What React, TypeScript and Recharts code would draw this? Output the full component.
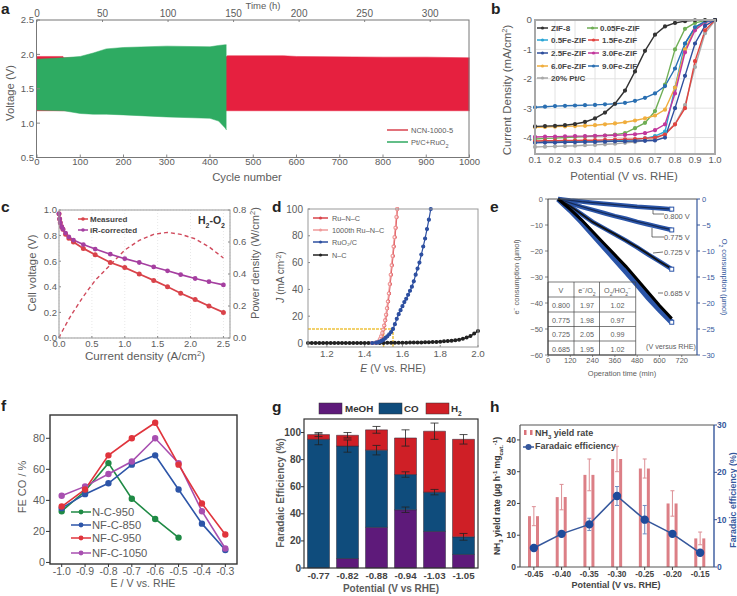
import React from 'react';
import {
  Area, Bar, CartesianGrid, ComposedChart, ErrorBar, Line, XAxis, YAxis,
} from 'recharts';

const FONT = '"Liberation Sans", Arial, sans-serif';
const GREY = '#5c5c5c';
const BLUE = '#35579c';

// panel a
const cycles = [0, 60, 62, 100, 130, 160, 200, 300, 400, 420, 435, 438, 440, 570, 600, 800, 900, 1000];
const hours = [0, 20, 20, 33, 43, 53, 66, 99, 132, 139, 144, 145, 145, 188, 198, 264, 297, 330];
const hoursTicks = [0, 50, 100, 150, 200, 250, 300];
const redHigh = [1.97, 1.97, 1.95, 1.95, 1.96, 1.96, 1.96, 1.96, 1.97, 1.97, 1.97, 1.97, 1.98, 1.98, 1.97, 1.96, 1.96, 1.95];
const redLow = [1.18, 1.18, 1.18, 1.18, 1.18, 1.18, 1.18, 1.18, 1.18, 1.18, 1.18, 1.18, 1.18, 1.18, 1.18, 1.18, 1.18, 1.18];
const greenHigh = [1.93, 1.95, 1.95, 1.97, 2.02, 2.08, 2.1, 2.12, 2.11, 2.13, 2.14, 2.14, null, null, null, null, null, null];
const greenLow = [1.19, 1.18, 1.18, 1.14, 1.13, 1.13, 1.12, 1.09, 1.07, 1.03, 0.93, 0.9, null, null, null, null, null, null];

// panel b
const potential = [0.1, 0.15, 0.2, 0.25, 0.3, 0.35, 0.4, 0.45, 0.5, 0.55, 0.6, 0.65, 0.7, 0.75, 0.8, 0.85, 0.9, 0.95, 1.0];
const zif8 = [-3.62, -3.61, -3.6, -3.58, -3.54, -3.47, -3.35, -3.15, -2.85, -2.4, -1.75, -1.05, -0.5, -0.22, -0.1, -0.04, -0.01, 0, 0];
const fe005 = [-4.05, -4.03, -4.02, -4.0, -3.98, -3.97, -3.95, -3.93, -3.9, -3.85, -3.68, -3.5, -3.1, -2.2, -1.0, -0.3, -0.1, -0.02, 0];
const fe05 = [-4.15, -4.14, -4.14, -4.13, -4.13, -4.12, -4.12, -4.11, -4.1, -4.09, -4.07, -4.03, -3.95, -3.8, -2.3, -0.8, -0.25, -0.05, 0];
const fe15 = [-4.12, -4.11, -4.11, -4.1, -4.1, -4.09, -4.09, -4.08, -4.07, -4.06, -4.05, -4.03, -4.0, -3.9, -3.55, -3.0, -1.4, -0.35, 0];
const fe25 = [-4.18, -4.17, -4.17, -4.16, -4.16, -4.15, -4.15, -4.14, -4.13, -4.13, -4.12, -4.11, -4.1, -4.0, -3.0, -1.9, -0.8, -0.2, 0];
const fe30 = [-3.98, -3.97, -3.97, -3.96, -3.95, -3.95, -3.94, -3.93, -3.92, -3.91, -3.89, -3.85, -3.75, -3.55, -2.5, -1.1, -0.35, -0.08, 0];
const fe60 = [-3.65, -3.64, -3.63, -3.62, -3.61, -3.6, -3.58, -3.55, -3.52, -3.48, -3.42, -3.35, -3.25, -3.05, -2.3, -1.0, -0.3, -0.08, 0];
const fe90 = [-2.97, -2.95, -2.93, -2.92, -2.91, -2.9, -2.89, -2.87, -2.85, -2.82, -2.75, -2.65, -2.5, -2.25, -1.65, -0.8, -0.25, -0.05, 0];
const ptc = [-4.32, -4.31, -4.3, -4.29, -4.28, -4.26, -4.25, -4.23, -4.21, -4.18, -4.15, -4.1, -4.05, -3.85, -3.55, -2.9, -1.6, -0.45, -0.02];

// panel c
const currentDensity = [0, 0.01, 0.02, 0.04, 0.06, 0.1, 0.15, 0.22, 0.37, 0.55, 0.78, 1.0, 1.22, 1.44, 1.65, 1.85, 2.07, 2.28, 2.5];
const measured = [0.97, 0.93, 0.9, 0.87, 0.85, 0.81, 0.78, 0.75, 0.7, 0.65, 0.59, 0.55, 0.5, 0.45, 0.4, 0.35, 0.3, 0.25, 0.2];
const irCorrected = [0.97, 0.93, 0.9, 0.87, 0.85, 0.82, 0.79, 0.765, 0.73, 0.695, 0.655, 0.62, 0.59, 0.555, 0.525, 0.495, 0.465, 0.44, 0.415];
const powerDensity = [0, 0.01, 0.02, 0.035, 0.05, 0.08, 0.118, 0.165, 0.26, 0.36, 0.457, 0.55, 0.61, 0.648, 0.66, 0.648, 0.62, 0.57, 0.5];

// panel d
const ruX = [1.44, 1.46, 1.47, 1.48, 1.485, 1.49, 1.495, 1.5, 1.505, 1.51, 1.515, 1.52, 1.525, 1.53, 1.535, 1.54, 1.545, 1.55, 1.555, 1.56, 1.565, 1.57, 1.573];
const ruY = [0, 0.2, 0.6, 1.5, 3, 5, 7.5, 10, 13, 17, 21, 26, 31, 37, 44, 51, 58, 65, 72, 79, 86, 94, 100];
const agedX = [1.44, 1.455, 1.465, 1.475, 1.48, 1.486, 1.492, 1.497, 1.502, 1.507, 1.512, 1.517, 1.522, 1.527, 1.532, 1.537, 1.542, 1.547, 1.552, 1.557, 1.562, 1.567, 1.571];
const ruo2X = [1.44, 1.46, 1.47, 1.48, 1.49, 1.5, 1.51, 1.52, 1.53, 1.54, 1.55, 1.56, 1.57, 1.58, 1.59, 1.6, 1.61, 1.62, 1.63, 1.64, 1.65, 1.66, 1.67, 1.68, 1.69, 1.7, 1.71, 1.72, 1.73, 1.74, 1.75];
const ruo2Y = [0, 0.2, 0.5, 1, 1.6, 2.5, 3.8, 5, 6.5, 8.2, 10.5, 14, 18, 21.5, 24.5, 27.5, 30.5, 33, 36, 39, 42, 46, 51, 55.5, 60, 66, 72, 78, 85, 92, 100];
const ncX = [1.1, 1.12, 1.14, 1.16, 1.18, 1.2, 1.22, 1.24, 1.26, 1.28, 1.3, 1.32, 1.34, 1.36, 1.38, 1.4, 1.42, 1.44, 1.46, 1.48, 1.5, 1.52, 1.54, 1.56, 1.58, 1.6, 1.62, 1.64, 1.66, 1.68, 1.7, 1.72, 1.74, 1.76, 1.78, 1.8, 1.82, 1.84, 1.86, 1.88, 1.9, 1.92, 1.94, 1.96, 1.98, 2.0];
const ncY = [0, 0, 0, 0, 0, 0, 0, 0, 0, 0, 0, 0, 0, 0, 0, 0, 0, 0, 0, 0, 0.05, 0.1, 0.1, 0.1, 0.2, 0.2, 0.2, 0.3, 0.3, 0.4, 0.4, 0.5, 0.6, 0.7, 0.8, 1, 1.2, 1.4, 1.7, 2, 2.5, 3.2, 4, 5.2, 7, 9];
const guideX = [1.1, 1.55, 1.55];
const guideY = [10.5, 10.5, -3];
const guide2X = [1.5, 1.5];
const guide2Y = [10.5, -3];

// panel e
const minutes = [54, 120, 180, 240, 300, 360, 420, 480, 540, 600, 666];
const e800 = [0, -0.5, -1, -1.4, -1.8, -2.2, -2.6, -3, -3.3, -3.6, -3.85];
const e775 = [0, -1.5, -2.9, -4.2, -5.4, -6.5, -7.6, -8.7, -9.7, -10.8, -11.8];
const e725 = [0, -2.8, -5.8, -8.8, -11.2, -13.5, -16, -18.5, -21.2, -24, -26.8];
const e685 = [0, -4, -8, -12.5, -17, -21.5, -26, -31, -36, -41, -46];
const o800 = [0, -0.3, -0.5, -0.7, -0.9, -1.1, -1.3, -1.5, -1.65, -1.8, -1.95];
const o775 = [0, -0.8, -1.5, -2.1, -2.7, -3.3, -3.8, -4.4, -4.9, -5.4, -5.95];
const o725 = [0, -1.4, -2.9, -4.4, -5.6, -6.8, -8, -9.3, -10.7, -12, -13.5];
const o685 = [0, -2.2, -4.4, -6.8, -9.2, -11.6, -14, -16.5, -19, -21.3, -23.7];
const tableRows = [
  ['0.800', '1.97', '1.02'],
  ['0.775', '1.98', '0.97'],
  ['0.725', '2.05', '0.99'],
  ['0.685', '1.95', '1.02'],
];

// panel f
const feX = [-1.0, -0.9, -0.8, -0.7, -0.6, -0.5, -0.4, -0.3];
const nc950 = [33, 46, 64, 41, 28, 16];
const nf850 = [35, 44, 51, 63, 69, 47, 25, 8];
const nf950 = [36, 47, 69, 80, 90, 63, 38, 18];
const nf1050 = [43, 49, 57, 65, 80, 64, 33, 9];

// panel g
const gLabels = ['-0.77', '-0.82', '-0.88', '-0.94', '-1.03', '-1.05'];
const meoh = [0, 7, 30, 43, 27, 10];
const co = [95, 83, 57, 26, 29, 13];
const h2 = [3.5, 8, 15, 27, 45, 72];
const meohErr = [0, 0, 0, 2, 0, 0];
const coErr = [4, 4.5, 3.5, 2, 2, 2.5];
const h2Err = [1.5, 2, 2.5, 6, 6, 3.5];

// panel h
const hLabels = ['-0.45', '-0.40', '-0.35', '-0.30', '-0.25', '-0.20', '-0.15'];
const nh3 = [16, 22, 29, 34, 31, 20, 9];
const nh3Err = [3, 4, 5, 4, 3, 4, 2];
const faradaic = [4, 7, 9, 15, 10, 7, 3];
const faradaicErr = [0, 0.5, 1.3, 2, 3, 0.5, 0];

const aRows = cycles.map((c, i) => ({
  c,
  h: hours[i],
  red: [redLow[i], redHigh[i]],
  green: greenHigh[i] == null ? null : [greenLow[i], greenHigh[i]],
}));
const bRows = potential.map((x, i) => ({
  x, zif8: zif8[i], fe005: fe005[i], fe05: fe05[i], fe15: fe15[i], fe25: fe25[i], fe30: fe30[i], fe60: fe60[i], fe90: fe90[i], ptc: ptc[i],
}));
const cRows = currentDensity.map((x, i) => ({ x, measured: measured[i], ir: irCorrected[i], power: powerDensity[i] }));
const pairs = (xs: number[], ys: number[]) => xs.map((x, i) => ({ x, y: ys[i] }));
const eRows = minutes.map((x, i) => ({
  x, e800: e800[i], e775: e775[i], e725: e725[i], e685: e685[i], o800: o800[i], o775: o775[i], o725: o725[i], o685: o685[i],
}));
const fRows = feX.map((x, i) => ({ x, nc950: nc950[i], nf850: nf850[i], nf950: nf950[i], nf1050: nf1050[i] }));
const gRows = gLabels.map((p, i) => ({
  p, meoh: meoh[i], co: co[i], h2: h2[i], meohErr: meohErr[i], coErr: coErr[i], h2Err: h2Err[i],
}));
const hRows = hLabels.map((p, i) => ({ p, left: nh3[i], right: nh3[i], nh3: nh3[i], nh3Err: nh3Err[i], fe: faradaic[i], feErr: faradaicErr[i] }));

const bSeries = [
  { key: 'ptc', name: '20% Pt/C', color: '#a9a9a9' },
  { key: 'fe005', name: '0.05Fe-ZIF', color: '#6fae55' },
  { key: 'fe05', name: '0.5Fe-ZIF', color: '#2ba6d6' },
  { key: 'fe60', name: '6.0Fe-ZIF', color: '#f0ae3e' },
  { key: 'fe30', name: '3.0Fe-ZIF', color: '#c2379c' },
  { key: 'fe15', name: '1.5Fe-ZIF', color: '#e2433f' },
  { key: 'fe25', name: '2.5Fe-ZIF', color: '#2f4f9d' },
  { key: 'fe90', name: '9.0Fe-ZIF', color: '#2a6fb2' },
  { key: 'zif8', name: 'ZIF-8', color: '#333333' },
];
const colorOf = (key: string) => bSeries.find((s) => s.key === key)!.color;

const tick = (fontSize: number, fill = GREY, fontWeight = 400) => ({ fontSize, fill, fontWeight, fontFamily: FONT });
const abs = (left: number, top: number) => ({ position: 'absolute' as const, left, top });

function T({ x, y, size, rot, anchor, weight, color, italic, children }: any) {
  return (
    <text
      x={x}
      y={y}
      fontSize={size}
      fontFamily={FONT}
      fontWeight={weight || 400}
      fontStyle={italic ? 'italic' : undefined}
      fill={color || GREY}
      textAnchor={anchor || 'start'}
      transform={rot ? `rotate(${rot} ${x} ${y})` : undefined}
    >
      {children}
    </text>
  );
}

const Sub = ({ children, size }: any) => <tspan baselineShift="sub" fontSize={size}>{children}</tspan>;
const Sup = ({ children, size }: any) => <tspan baselineShift="super" fontSize={size}>{children}</tspan>;

function Swatch({ x1, x2, y, color, r }: any) {
  return (
    <g>
      <line x1={x1} x2={x2} y1={y} y2={y} stroke={color} strokeWidth={1.5} />
      {r ? <circle cx={(x1 + x2) / 2} cy={y} r={r} fill={color} /> : null}
    </g>
  );
}

// hollow square only on the last sample of a run
const endSquare = (last: number, color: string) => (p: any) => (
  p.index === last
    ? <rect key={p.index} x={p.cx - 2} y={p.cy - 2} width={4} height={4} fill="#fff" stroke={color} strokeWidth={1} />
    : <g key={p.index} />
);

function Overlay() {
  const bLegend = [
    ['zif8', 537, 28, 551], ['fe005', 587, 28, 600],
    ['fe05', 537, 40, 551], ['fe15', 588, 40, 602],
    ['fe25', 537, 53, 551], ['fe30', 588, 53, 602],
    ['fe60', 537, 66, 551], ['fe90', 588, 66, 602],
    ['ptc', 537, 78, 551],
  ] as [string, number, number, number][];
  const tx = [548, 574, 599.5, 635.7];
  const ty = [282, 297, 312, 326.5, 341, 355];
  const names = Object.fromEntries(bSeries.map((s) => [s.key, s.name]));
  const fLegend = [
    ['N-C-950', '#1f8a45', 512], ['NF-C-850', '#2d55a8', 525], ['NF-C-950', '#e0343c', 538], ['NF-C-1050', '#a84fb0', 553],
  ] as [string, string, number][];
  const dLegend = [
    ['Ru\u2013N\u2013C', '#d9434a', 218], ['1000th Ru\u2013N\u2013C', '#ef9a9a', 230], ['RuO\u2082/C', '#2d4fa0', 242], ['N\u2013C', '#222', 255],
  ] as [string, string, number][];
  return (
    <svg width={737} height={596} style={{ ...abs(0, 0), pointerEvents: 'none' }}>
      {/* panel letters */}
      <T x={1} y={14} size={15.5} weight={700} color="#222">a</T>
      <T x={491} y={14} size={15.5} weight={700} color="#222">b</T>
      <T x={1} y={212} size={15.5} weight={700} color="#222">c</T>
      <T x={272} y={212} size={15.5} weight={700} color="#222">d</T>
      <T x={490} y={212} size={15.5} weight={700} color="#222">e</T>
      <T x={1} y={411} size={15.5} weight={700} color="#222">f</T>
      <T x={272} y={412} size={15.5} weight={700} color="#222">g</T>
      <T x={490} y={412} size={15.5} weight={700} color="#222">h</T>

      {/* a */}
      <rect x={36.5} y={20} width={432.5} height={137.5} fill="none" stroke="#777" strokeWidth={1} />
      <T x={263} y={9} size={9.5} anchor="middle">Time (h)</T>
      <T x={247} y={181} size={11.3} anchor="middle">Cycle number</T>
      <T x={14} y={93} size={11.3} anchor="middle" rot={-90}>Voltage (V)</T>
      <Swatch x1={387} x2={408} y={130} color="#d8434f" />
      <Swatch x1={387} x2={408} y={142} color="#2fa860" />
      <T x={411} y={133} size={7.5}>NCN-1000-5</T>
      <T x={411} y={145} size={7.5}>Pt/C+RuO<Sub size={5.5}>2</Sub></T>

      {/* b */}
      <rect x={535} y={20} width={180} height={134} fill="none" stroke="#a8a8a8" strokeWidth={2} />
      <T x={511} y={90} size={11.5} anchor="middle" rot={-90}>Current Density (mA/cm<Sup size={7.5}>2</Sup>)</T>
      <T x={624} y={180} size={11.4} anchor="middle">Potential (V vs. RHE)</T>
      {bLegend.map(([key, lx, ly, tx0]) => (
        <g key={key}>
          <Swatch x1={lx} x2={lx + 11} y={ly} color={colorOf(key)} r={1.6} />
          <T x={tx0} y={ly + 3} size={8} weight={700} color="#444">{names[key]}</T>
        </g>
      ))}

      {/* c */}
      <rect x={59} y={210} width={171} height={128} fill="none" stroke="#999" strokeWidth={1} />
      <T x={36} y={273} size={11.3} anchor="middle" rot={-90}>Cell voltage (V)</T>
      <T x={145} y={360} size={11.6} anchor="middle">Current density (A/cm<Sup size={7.5}>2</Sup>)</T>
      <Swatch x1={78} x2={88} y={219} color="#d9434a" r={1.8} />
      <Swatch x1={78} x2={88} y={230} color="#a53fa0" r={1.8} />
      <T x={90} y={222} size={8} weight={700} color="#444">Measured</T>
      <T x={90} y={233} size={8} weight={700} color="#444">iR-corrected</T>
      <T x={225} y={224} size={10.5} weight={700} color="#333" anchor="end">H<Sub size={7}>2</Sub>-O<Sub size={7}>2</Sub></T>
      <T x={259} y={263} size={11} anchor="middle" rot={-90}>Power density (W/cm<Sup size={7.5}>2</Sup>)</T>

      {/* d */}
      <rect x={308} y={209} width={170} height={138} fill="none" stroke="#999" strokeWidth={1} />
      <T x={284} y={277} size={10} anchor="middle" rot={-90}><tspan fontStyle="italic">J</tspan> (mA cm<Sup size={7}>-2</Sup>)</T>
      <T x={393} y={372} size={10.5} anchor="middle"><tspan fontStyle="italic">E</tspan> (V vs. RHE)</T>
      {dLegend.map(([name, color, ly]) => (
        <g key={name}>
          <Swatch x1={313} x2={328} y={ly} color={color} r={1.5} />
          <T x={332} y={ly + 3} size={7.3}>{name}</T>
        </g>
      ))}

      {/* e */}
      <line x1={548} x2={697} y1={199} y2={199} stroke="#555" />
      <line x1={548} x2={548} y1={199} y2={355} stroke="#333" />
      <line x1={548} x2={697} y1={355} y2={355} stroke="#555" />
      <T x={519} y={277} size={7.5} anchor="middle" rot={-90}>e<Sup size={5}>−</Sup> consumption (µmol)</T>
      <T x={722} y={277} size={7.5} anchor="middle" rot={90} color={BLUE}>O<Sub size={5}>2</Sub> consumption (µmol)</T>
      <T x={622} y={376} size={7.5} anchor="middle">Operation time (min)</T>
      <polyline points="653,210 653,214 664,214" fill="none" stroke="#333" strokeWidth={0.7} />
      <polyline points="652,228 652,237 664,237" fill="none" stroke="#333" strokeWidth={0.7} />
      <polyline points="653,253 663,252" fill="none" stroke="#333" strokeWidth={0.7} />
      <polyline points="658,293 663,293" fill="none" stroke="#333" strokeWidth={0.7} />
      <T x={664} y={219} size={7.5}>0.800 V</T>
      <T x={664} y={240} size={7.5}>0.775 V</T>
      <T x={664} y={255} size={7.5}>0.725 V</T>
      <T x={664} y={296} size={7.5}>0.685 V</T>
      <T x={646} y={349} size={7.2}>(V versus RHE)</T>
      {ty.map((y) => <line key={y} x1={548} x2={635.7} y1={y} y2={y} stroke="#444" strokeWidth={0.7} />)}
      {tx.map((x) => <line key={x} x1={x} x2={x} y1={282} y2={355} stroke="#444" strokeWidth={0.7} />)}
      <T x={561} y={293} size={7.2} anchor="middle">V</T>
      <T x={587} y={293} size={7.2} anchor="middle">e<Sup size={5}>−</Sup>/O<Sub size={5}>2</Sub></T>
      <T x={617.5} y={293} size={7.2} anchor="middle">O<Sub size={5}>2</Sub>/HO<Sub size={5}>2</Sub><Sup size={5}>−</Sup></T>
      {tableRows.map((row, i) => (
        <g key={row[0]}>
          <T x={561} y={ty[i + 1] + 10.5} size={7.2} anchor="middle">{row[0]}</T>
          <T x={587} y={ty[i + 1] + 10.5} size={7.2} anchor="middle">{row[1]}</T>
          <T x={617.5} y={ty[i + 1] + 10.5} size={7.2} anchor="middle">{row[2]}</T>
        </g>
      ))}

      {/* f */}
      <rect x={50} y={415} width={187} height={149} fill="none" stroke="#333" strokeWidth={1.4} />
      <T x={26} y={487} size={11} anchor="middle" rot={-90}>FE CO / %</T>
      <T x={143} y={587} size={10.6} anchor="middle">E / V vs. RHE</T>
      {fLegend.map(([name, color, ly]) => (
        <g key={name}>
          <Swatch x1={71} x2={91} y={ly} color={color} r={2.4} />
          <T x={92} y={ly + 4} size={11.2}>{name}</T>
        </g>
      ))}

      {/* g */}
      <rect x={304} y={419} width={174} height={149} fill="none" stroke="#333" strokeWidth={1.2} />
      <T x={284} y={493} size={10} weight={700} anchor="middle" rot={-90}>Faradaic Efficiency (%)</T>
      <T x={391} y={592} size={10} weight={700} anchor="middle">Potential (V vs RHE)</T>
      <rect x={319} y={403} width={23} height={11} fill="#5e1a7a" stroke="#333" strokeWidth={0.5} />
      <rect x={379} y={403} width={23} height={11} fill="#0f4c7c" stroke="#333" strokeWidth={0.5} />
      <rect x={426} y={403} width={23} height={11} fill="#cf1f26" stroke="#333" strokeWidth={0.5} />
      <T x={345} y={412} size={9.8} weight={700} color="#333">MeOH</T>
      <T x={404} y={412} size={9.8} weight={700} color="#333">CO</T>
      <T x={451} y={412} size={9.8} weight={700} color="#333">H<Sub size={6.5}>2</Sub></T>

      {/* h */}
      <line x1={520} x2={714} y1={425} y2={425} stroke="#555" strokeWidth={1.2} />
      <T x={500} y={496} size={8.6} weight={700} anchor="middle" rot={-90} color="#333">NH<Sub size={6}>3</Sub> yield rate (µg h<Sup size={6}>-1</Sup> mg<Sub size={6}>cat.</Sub><Sup size={6}>-1</Sup>)</T>
      <T x={736} y={500} size={8.8} weight={700} anchor="middle" rot={-90} color={BLUE}>Faradaic efficiency (%)</T>
      <T x={616} y={588} size={9} weight={700} anchor="middle" color="#444">Potential (V vs. RHE)</T>
      <rect x={524} y={430} width={2.5} height={5} fill="#d9737b" />
      <rect x={530} y={430} width={2.5} height={5} fill="#d9737b" />
      <T x={535} y={436} size={9} weight={700} color="#444">NH<Sub size={6}>3</Sub> yield rate</T>
      <Swatch x1={523} x2={534} y={447} color={BLUE} r={3} />
      <T x={535} y={449} size={9} weight={700} color="#444">Faradaic efficiency</T>
    </svg>
  );
}

export default function App() {
  const axisGrey = { stroke: '#888' };
  return (
    <div style={{ position: 'relative', width: 737, height: 596, fontFamily: FONT, overflow: 'hidden', background: '#fff' }}>
      <style>{'body{margin:0}'}</style>

      {/* a */}
      <div style={abs(6.5, 0)}>
        <ComposedChart width={480} height={180} data={aRows} margin={{ top: 0, right: 17.5, bottom: 0, left: 0 }}>
          <XAxis xAxisId="cycle" dataKey="c" type="number" domain={[0, 1000]} ticks={[0, 100, 200, 300, 400, 500, 600, 700, 800, 900, 1000]} interval={0} height={22.5} tick={tick(9.5)} tickLine={axisGrey} axisLine={false} tickSize={-3} tickMargin={4} />
          <XAxis xAxisId="hours" dataKey="h" orientation="top" type="number" domain={[0, 330]} ticks={hoursTicks} interval={0} height={20} tick={tick(10)} tickLine={axisGrey} axisLine={false} tickSize={-2} tickMargin={5} />
          <YAxis type="number" domain={[0.5, 2.5]} ticks={[0.5, 1, 1.5, 2, 2.5]} interval={0} width={30} tick={tick(9.6)} tickFormatter={(v: number) => v.toFixed(1)} tickLine={axisGrey} axisLine={false} tickSize={-3} tickMargin={6} />
          <Area xAxisId="cycle" dataKey="red" type="linear" fill="#e6203f" fillOpacity={1} stroke="#e6203f" strokeWidth={0.5} isAnimationActive={false} />
          <Area xAxisId="cycle" dataKey="green" type="linear" fill="#2eab62" fillOpacity={1} stroke="#2eab62" strokeWidth={0.5} isAnimationActive={false} />
        </ComposedChart>
      </div>

      {/* b */}
      <div style={abs(510, 10)}>
        <ComposedChart width={219} height={160} data={bRows} margin={{ top: 10, right: 14, bottom: 0, left: 0 }}>
          <CartesianGrid stroke="#e2e2e2" />
          <XAxis dataKey="x" type="number" domain={[0.1, 1]} ticks={[0.1, 0.2, 0.3, 0.4, 0.5, 0.6, 0.7, 0.8, 0.9, 1]} interval={0} height={16} tick={tick(9.5)} tickFormatter={(v: number) => v.toFixed(1)} tickLine={false} axisLine={false} tickSize={0} tickMargin={2} />
          <YAxis type="number" domain={[-4.56, 0]} ticks={[-4, -3, -2, -1, 0]} interval={0} width={25} tick={tick(9.8)} tickLine={false} axisLine={false} tickSize={0} tickMargin={3} />
          {bSeries.map((s) => (
            <Line key={s.key} dataKey={s.key} stroke={s.color} strokeWidth={1.4} dot={{ r: 1.4, fill: s.color, stroke: s.color }} isAnimationActive={false} />
          ))}
        </ComposedChart>
      </div>

      {/* c */}
      <div style={abs(39, 204)}>
        <ComposedChart width={216} height={150} data={cRows} margin={{ top: 6, right: 0, bottom: 0, left: 0 }}>
          <CartesianGrid stroke="#e8e8e8" strokeDasharray="1 2" />
          <XAxis dataKey="x" type="number" domain={[0, 2.6]} ticks={[0, 0.5, 1, 1.5, 2, 2.5]} interval={0} height={16} tick={tick(9.5)} tickFormatter={(v: number) => v.toFixed(1)} tickLine={axisGrey} axisLine={false} tickSize={-2} tickMargin={4} />
          <YAxis yAxisId="v" type="number" domain={[0, 1]} ticks={[0, 0.2, 0.4, 0.6, 0.8, 1]} interval={0} width={20} tick={tick(9.5)} tickFormatter={(v: number) => v.toFixed(1)} tickLine={axisGrey} axisLine={false} tickSize={-2} tickMargin={4} />
          <YAxis yAxisId="p" orientation="right" type="number" domain={[0, 0.8]} ticks={[0, 0.2, 0.4, 0.6, 0.8]} interval={0} width={25} tick={tick(9.5)} tickFormatter={(v: number) => v.toFixed(1)} tickLine={axisGrey} axisLine={false} tickSize={-2} tickMargin={5} />
          <Line yAxisId="p" dataKey="power" stroke="#d04a5c" strokeWidth={1.4} strokeDasharray="4 3" dot={false} isAnimationActive={false} />
          <Line yAxisId="v" dataKey="measured" stroke="#d9434a" strokeWidth={1.8} dot={{ r: 1.6, fill: '#d9434a', stroke: '#d9434a' }} isAnimationActive={false} />
          <Line yAxisId="v" dataKey="ir" stroke="#a53fa0" strokeWidth={1.6} dot={{ r: 1.6, fill: '#a53fa0', stroke: '#a53fa0' }} isAnimationActive={false} />
        </ComposedChart>
      </div>

      {/* d */}
      <div style={abs(278, 203)}>
        <ComposedChart width={214} height={162} margin={{ top: 6, right: 14, bottom: 0, left: 0 }}>
          <XAxis dataKey="x" type="number" domain={[1.1, 2]} ticks={[1.2, 1.4, 1.6, 1.8, 2]} interval={0} height={18} tick={tick(9.8)} tickFormatter={(v: number) => v.toFixed(1)} tickLine={axisGrey} axisLine={false} tickSize={-2} tickMargin={5} />
          <YAxis dataKey="y" type="number" domain={[-3, 100]} ticks={[0, 20, 40, 60, 80, 100]} interval={0} width={30} tick={tick(10)} tickLine={axisGrey} axisLine={false} tickSize={-2} tickMargin={7} />
          <Line data={pairs(ncX, ncY)} dataKey="y" stroke="#222" strokeWidth={1.4} dot={{ r: 1.3, fill: '#222', stroke: '#222' }} isAnimationActive={false} />
          <Line data={pairs(ruX, ruY)} dataKey="y" stroke="#d9434a" strokeWidth={1.2} dot={{ r: 1.3, fill: '#d9434a', stroke: '#d9434a' }} isAnimationActive={false} />
          <Line data={pairs(agedX, ruY)} dataKey="y" stroke="#ef9a9a" strokeWidth={1.2} dot={{ r: 1.4, fill: '#fff', stroke: '#ef9a9a' }} isAnimationActive={false} />
          <Line data={pairs(ruo2X, ruo2Y)} dataKey="y" stroke="#2d4fa0" strokeWidth={1.2} dot={{ r: 1.5, fill: '#2d4fa0', stroke: '#2d4fa0' }} isAnimationActive={false} />
          <Line data={pairs(guideX, guideY)} dataKey="y" stroke="#eec23e" strokeWidth={1.5} strokeDasharray="3 1" dot={false} isAnimationActive={false} />
          <Line data={pairs(guide2X, guide2Y)} dataKey="y" stroke="#eec23e" strokeWidth={1.5} strokeDasharray="3 1" dot={false} isAnimationActive={false} />
        </ComposedChart>
      </div>

      {/* e */}
      <div style={abs(523, 194)}>
        <ComposedChart width={197} height={173} data={eRows} margin={{ top: 5, right: 0, bottom: 0, left: 0 }}>
          <XAxis dataKey="x" type="number" domain={[0, 802]} ticks={[0, 120, 240, 360, 480, 600, 720]} interval={0} height={12} tick={tick(7.5)} tickLine={axisGrey} axisLine={false} tickSize={2} tickMargin={1} />
          <YAxis yAxisId="e" type="number" domain={[-60, 0]} ticks={[-60, -50, -40, -30, -20, -10, 0]} interval={0} width={25} tick={tick(7.5)} tickFormatter={(v: number) => String(v).replace('-', '\u2212')} tickLine={axisGrey} axisLine={false} tickSize={3} tickMargin={2} />
          <YAxis yAxisId="o" orientation="right" type="number" domain={[-30, 0]} ticks={[-30, -25, -20, -15, -10, -5, 0]} interval={0} width={23} tick={tick(7.5, BLUE)} tickFormatter={(v: number) => String(v).replace('-', '\u2212')} tickLine={{ stroke: BLUE }} axisLine={{ stroke: BLUE, strokeWidth: 1.2 }} tickSize={3} tickMargin={2} />
          <Line yAxisId="o" dataKey="o800" stroke="#2b55a8" strokeWidth={4.5} dot={endSquare(10, '#2b55a8')} isAnimationActive={false} />
          <Line yAxisId="o" dataKey="o775" stroke="#2b55a8" strokeWidth={4.5} dot={endSquare(10, '#2b55a8')} isAnimationActive={false} />
          <Line yAxisId="o" dataKey="o725" stroke="#2b55a8" strokeWidth={4.5} dot={endSquare(10, '#2b55a8')} isAnimationActive={false} />
          <Line yAxisId="o" dataKey="o685" stroke="#2b55a8" strokeWidth={5.5} dot={endSquare(10, '#2b55a8')} isAnimationActive={false} />
          <Line yAxisId="e" dataKey="e800" stroke="#162a55" strokeWidth={1.2} dot={false} isAnimationActive={false} />
          <Line yAxisId="e" dataKey="e775" stroke="#162a55" strokeWidth={1.2} dot={false} isAnimationActive={false} />
          <Line yAxisId="e" dataKey="e725" stroke="#111" strokeWidth={1.8} dot={false} isAnimationActive={false} />
          <Line yAxisId="e" dataKey="e685" stroke="#000" strokeWidth={3} dot={false} isAnimationActive={false} />
        </ComposedChart>
      </div>

      {/* f */}
      <div style={abs(18, 405)}>
        <ComposedChart width={233} height={176} data={fRows} margin={{ top: 10, right: 14, bottom: 0, left: 0 }}>
          <XAxis dataKey="x" type="number" domain={[-1.05, -0.25]} ticks={feX} interval={0} height={17} tick={tick(10.5)} tickFormatter={(v: number) => v.toFixed(1)} tickLine={{ stroke: '#333' }} axisLine={false} tickSize={3} tickMargin={1} />
          <YAxis type="number" domain={[-1, 95]} ticks={[0, 20, 40, 60, 80]} interval={0} width={32} tick={tick(10.8)} tickLine={{ stroke: '#333' }} axisLine={false} tickSize={4} tickMargin={1} />
          <Line dataKey="nc950" stroke="#1f8a45" strokeWidth={1.6} dot={{ r: 2.4, fill: '#1f8a45', stroke: '#1f8a45' }} isAnimationActive={false} />
          <Line dataKey="nf850" stroke="#2d55a8" strokeWidth={1.6} dot={{ r: 2.4, fill: '#2d55a8', stroke: '#2d55a8' }} isAnimationActive={false} />
          <Line dataKey="nf1050" stroke="#a84fb0" strokeWidth={1.6} dot={{ r: 2.4, fill: '#a84fb0', stroke: '#a84fb0' }} isAnimationActive={false} />
          <Line dataKey="nf950" stroke="#e0343c" strokeWidth={1.6} dot={{ r: 2.4, fill: '#e0343c', stroke: '#e0343c' }} isAnimationActive={false} />
        </ComposedChart>
      </div>

      {/* g */}
      <div style={abs(280, 409)}>
        <ComposedChart width={208} height={176} data={gRows} margin={{ top: 10, right: 10, bottom: 0, left: 0 }} barCategoryGap={3.5}>
          <XAxis dataKey="p" height={17} interval={0} tick={tick(9.7, '#444', 700)} tickLine={{ stroke: '#333' }} axisLine={false} tickSize={0} tickMargin={4} />
          <YAxis type="number" domain={[0, 110]} ticks={[0, 20, 40, 60, 80, 100]} interval={0} width={24} tick={tick(10, '#444', 700)} tickLine={{ stroke: '#333' }} axisLine={false} tickSize={3} tickMargin={0} />
          <Bar dataKey="meoh" stackId="s" fill="#5e1a7a" stroke="#2a2a3a" strokeWidth={0.5} isAnimationActive={false}>
            <ErrorBar dataKey="meohErr" stroke="#222" strokeWidth={0.8} width={4} />
          </Bar>
          <Bar dataKey="co" stackId="s" fill="#0f4c7c" stroke="#2a2a3a" strokeWidth={0.5} isAnimationActive={false}>
            <ErrorBar dataKey="coErr" stroke="#222" strokeWidth={0.8} width={4} />
          </Bar>
          <Bar dataKey="h2" stackId="s" fill="#cf1f26" stroke="#2a2a3a" strokeWidth={0.5} isAnimationActive={false}>
            <ErrorBar dataKey="h2Err" stroke="#222" strokeWidth={0.8} width={4} />
          </Bar>
        </ComposedChart>
      </div>

      {/* h */}
      <div style={abs(500, 415)}>
        <ComposedChart width={236} height={166} data={hRows} margin={{ top: 10, right: 0, bottom: 0, left: 0 }} barGap={5} barSize={3}>
          <XAxis dataKey="p" height={14} interval={0} tick={tick(8.3, '#444', 700)} tickLine={{ stroke: '#444' }} axisLine={{ stroke: '#555', strokeWidth: 1.2 }} tickSize={3} tickMargin={1} />
          <YAxis yAxisId="rate" type="number" domain={[0, 44.7]} ticks={[0, 10, 20, 30, 40]} interval={0} width={20} tick={tick(8.5, '#444', 700)} tickLine={{ stroke: '#444' }} axisLine={{ stroke: '#555', strokeWidth: 1.2 }} tickSize={3} tickMargin={1} />
          <YAxis yAxisId="fe" orientation="right" type="number" domain={[0, 30]} ticks={[0, 10, 20, 30]} interval={0} width={22} tick={tick(8.5, BLUE, 700)} tickLine={{ stroke: BLUE }} axisLine={{ stroke: BLUE, strokeWidth: 1.4 }} tickSize={3} tickMargin={0} />
          <Bar yAxisId="rate" dataKey="left" fill="#dc7f86" isAnimationActive={false} />
          <Bar yAxisId="rate" dataKey="right" fill="#dc7f86" isAnimationActive={false} />
          <Line yAxisId="rate" dataKey="nh3" stroke="none" dot={false} isAnimationActive={false}>
            <ErrorBar dataKey="nh3Err" stroke="#dc8f95" strokeWidth={1} width={2} />
          </Line>
          <Line yAxisId="fe" dataKey="fe" stroke={BLUE} strokeWidth={1.6} dot={{ r: 3.4, fill: '#1f4b9b', stroke: '#1f4b9b' }} isAnimationActive={false}>
            <ErrorBar dataKey="feErr" stroke="#6f8cc0" strokeWidth={1} width={2} />
          </Line>
        </ComposedChart>
      </div>

      <Overlay />
    </div>
  );
}
